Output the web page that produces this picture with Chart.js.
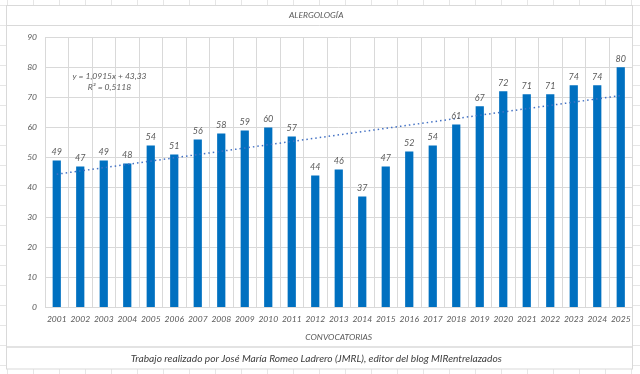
<!DOCTYPE html>
<html>
<head>
<meta charset="utf-8">
<script src="https://cdn.jsdelivr.net/npm/chart.js@4.4.1/dist/chart.umd.min.js"></script>
<style>
  html, body { margin: 0; padding: 0; background: #ffffff; }
  #wrap { width: 640px; height: 374px; }
</style>
</head>
<body>
<div id="wrap"><canvas id="c" width="640" height="374"></canvas></div>
<script>
// ---- data ----
const years = ['2001','2002','2003','2004','2005','2006','2007','2008','2009','2010','2011','2012','2013','2014','2015','2016','2017','2018','2019','2020','2021','2022','2023','2024','2025'];
const plazas = [49,47,49,48,54,51,56,58,59,60,57,44,46,37,47,52,54,61,67,72,71,71,74,74,80];
const trendYears = ['2001','2025'];
const trendValues = [44.4, 70.6];
const yTicks = [0,10,20,30,40,50,60,70,80,90];
const titleText = 'ALERGOLOGÍA';
const xTitleText = 'CONVOCATORIAS';
const footerText = 'Trabajo realizado por José María Romeo Ladrero (JMRL), editor del blog MIRentrelazados';
const equationLines = ['y = 1,0915x + 43,33', 'R² = 0,5118'];

const FONT = 'Lato, "Open Sans", "DejaVu Sans", sans-serif';
const TEXT = '#595959';

const backgroundPlugin = {
  id: 'sheetBg',
  beforeDraw(chart) {
    const ctx = chart.ctx;
    ctx.save();
    ctx.fillStyle = '#ffffff';
    ctx.fillRect(0, 0, 640, 374);
    ctx.strokeStyle = '#e6e6e6';
    ctx.lineWidth = 1;
    for (let x = 7.5; x < 640; x += 26) {
      ctx.beginPath(); ctx.moveTo(x, 0); ctx.lineTo(x, 374); ctx.stroke();
    }
    for (let y = 5.5; y < 374; y += 20) {
      ctx.beginPath(); ctx.moveTo(0, y); ctx.lineTo(640, y); ctx.stroke();
    }
    ctx.fillStyle = '#ffffff';
    ctx.fillRect(6, 5, 627, 364);
    ctx.strokeStyle = '#d9d9d9';
    ctx.strokeRect(6.5, 5.5, 626, 341.5);
    ctx.strokeRect(6.5, 347, 626, 22);
    ctx.beginPath(); ctx.moveTo(6.5, 25.5); ctx.lineTo(632.5, 25.5); ctx.stroke();
    ctx.restore();
  }
};

const labelsPlugin = {
  id: 'valueLabels',
  afterDatasetsDraw(chart) {
    const ctx = chart.ctx;
    const meta = chart.getDatasetMeta(1);
    ctx.save();
    ctx.fillStyle = TEXT;
    ctx.font = 'italic 9px ' + FONT;
    ctx.textAlign = 'center';
    ctx.textBaseline = 'middle';
    meta.data.forEach((bar, i) => {
      ctx.fillText(String(plazas[i]), bar.x, bar.y - 8);
    });
    ctx.font = 'italic 8.5px ' + FONT;
    ctx.fillText(equationLines[0], 109.5, 76.7);
    ctx.fillText(equationLines[1], 109.5, 87.7);
    ctx.restore();
  }
};

new Chart(document.getElementById('c'), {
  data: {
    labels: years,
    datasets: [
      {
        type: 'line',
        data: trendYears.map((y, i) => ({ x: y, y: trendValues[i] })),
        borderColor: '#4472C4',
        borderWidth: 1.5,
        borderDash: [1.5, 3],
        pointRadius: 0,
        fill: false,
        order: 0
      },
      {
        type: 'bar',
        data: plazas,
        backgroundColor: '#0070C0',
        borderWidth: 0,
        barPercentage: 0.35,
        categoryPercentage: 1.0,
        order: 1
      }
    ]
  },
  options: {
    responsive: false,
    animation: false,
    devicePixelRatio: 1,
    layout: { padding: { left: 0, right: 7.5, top: 0, bottom: 0 } },
    plugins: {
      legend: { display: false },
      tooltip: { enabled: false },
      title: {
        display: true,
        text: titleText,
        color: TEXT,
        font: { family: FONT, size: 8.5, style: 'italic', weight: 'normal' },
        padding: { top: 10.6, bottom: 16.5 }
      },
      subtitle: {
        display: true,
        position: 'bottom',
        text: footerText,
        color: '#404040',
        font: { family: FONT, size: 10.2, style: 'italic', weight: 'normal' },
        padding: { top: 2, bottom: 9.6 }
      }
    },
    scales: {
      x: {
        grid: { color: '#d9d9d9', drawTicks: false, offset: true },
        border: { display: true, color: '#d9d9d9' },
        ticks: {
          color: TEXT, padding: 6.5, maxRotation: 0, autoSkip: false,
          font: { family: FONT, size: 8.5, style: 'italic' }
        },
        title: {
          display: true, text: xTitleText, color: TEXT,
          font: { family: FONT, size: 8.5, style: 'italic' },
          padding: { top: 4, bottom: 7.5 }
        },
        afterFit(s) { s.height = 42.6; }
      },
      y: {
        min: 0, max: 90,
        grid: { color: '#d9d9d9', drawTicks: false },
        border: { display: false },
        afterBuildTicks(s) { s.ticks = yTicks.map(v => ({ value: v })); },
        ticks: {
          color: TEXT, padding: 8,
          font: { family: FONT, size: 8.5, style: 'italic' }
        },
        afterFit(s) { s.width = 45; }
      }
    }
  },
  plugins: [backgroundPlugin, labelsPlugin]
});
</script>
</body>
</html>
